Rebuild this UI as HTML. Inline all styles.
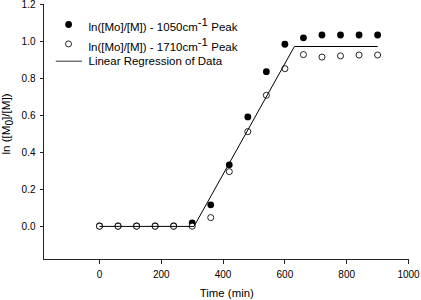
<!DOCTYPE html>
<html><head><meta charset="utf-8"><style>
html,body{margin:0;padding:0;background:#fff;}
body{width:421px;height:300px;overflow:hidden;}
svg{display:block;}
text{font-family:"Liberation Sans",sans-serif;fill:#000;}
</style></head><body>
<svg width="421" height="300" viewBox="0 0 421 300">
<rect width="421" height="300" fill="#fff"/>
<g stroke="#222" stroke-width="1" fill="none" shape-rendering="crispEdges">
<polyline points="43.5,4.5 43.5,259.5 409,259.5"/>
<line x1="40" y1="4.5" x2="43.5" y2="4.5"/><line x1="40" y1="41.5" x2="43.5" y2="41.5"/><line x1="40" y1="78.5" x2="43.5" y2="78.5"/><line x1="40" y1="115.5" x2="43.5" y2="115.5"/><line x1="40" y1="152.5" x2="43.5" y2="152.5"/><line x1="40" y1="189.5" x2="43.5" y2="189.5"/><line x1="40" y1="226.5" x2="43.5" y2="226.5"/>
<line x1="99.5" y1="259.5" x2="99.5" y2="263.5"/><line x1="161.5" y1="259.5" x2="161.5" y2="263.5"/><line x1="223.5" y1="259.5" x2="223.5" y2="263.5"/><line x1="284.5" y1="259.5" x2="284.5" y2="263.5"/><line x1="346.5" y1="259.5" x2="346.5" y2="263.5"/><line x1="408.5" y1="259.5" x2="408.5" y2="263.5"/>
</g>
<g font-size="10">
<text x="35.5" y="8.2" text-anchor="end">1.2</text><text x="35.5" y="45.2" text-anchor="end">1.0</text><text x="35.5" y="82.2" text-anchor="end">0.8</text><text x="35.5" y="119.2" text-anchor="end">0.6</text><text x="35.5" y="156.2" text-anchor="end">0.4</text><text x="35.5" y="193.2" text-anchor="end">0.2</text><text x="35.5" y="230.2" text-anchor="end">0.0</text>
<text x="99.50" y="277.6" text-anchor="middle">0</text><text x="161.30" y="277.6" text-anchor="middle">200</text><text x="223.10" y="277.6" text-anchor="middle">400</text><text x="284.90" y="277.6" text-anchor="middle">600</text><text x="346.70" y="277.6" text-anchor="middle">800</text><text x="408.50" y="277.6" text-anchor="middle">1000</text>
</g>
<text x="226.8" y="296.8" font-size="11.4" text-anchor="middle">Time (min)</text>
<text transform="translate(10.3,124) rotate(-90)" font-size="11.6" text-anchor="middle">ln ([M<tspan font-size="10.2" dy="2.6">0</tspan><tspan dy="-2.6">]/[M])</tspan></text>
<circle cx="99.50" cy="226" r="3.4" fill="#000"/>
<circle cx="118.04" cy="226" r="3.4" fill="#000"/>
<circle cx="136.58" cy="226" r="3.4" fill="#000"/>
<circle cx="155.12" cy="226" r="3.4" fill="#000"/>
<circle cx="173.66" cy="226" r="3.4" fill="#000"/>
<circle cx="192.20" cy="223" r="3.4" fill="#000"/>
<circle cx="210.74" cy="204.8" r="3.4" fill="#000"/>
<circle cx="229.28" cy="164.8" r="3.4" fill="#000"/>
<circle cx="247.82" cy="116.9" r="3.4" fill="#000"/>
<circle cx="266.36" cy="71.7" r="3.4" fill="#000"/>
<circle cx="284.90" cy="44.25" r="3.4" fill="#000"/>
<circle cx="303.44" cy="37.85" r="3.4" fill="#000"/>
<circle cx="321.98" cy="35" r="3.4" fill="#000"/>
<circle cx="340.52" cy="35" r="3.4" fill="#000"/>
<circle cx="359.06" cy="35" r="3.4" fill="#000"/>
<circle cx="377.60" cy="35" r="3.4" fill="#000"/>
<circle cx="99.50" cy="226.2" r="3.05" fill="#fff" stroke="#000" stroke-width="0.85"/>
<circle cx="118.04" cy="226.2" r="3.05" fill="#fff" stroke="#000" stroke-width="0.85"/>
<circle cx="136.58" cy="226.2" r="3.05" fill="#fff" stroke="#000" stroke-width="0.85"/>
<circle cx="155.12" cy="226.2" r="3.05" fill="#fff" stroke="#000" stroke-width="0.85"/>
<circle cx="173.66" cy="226.2" r="3.05" fill="#fff" stroke="#000" stroke-width="0.85"/>
<circle cx="192.20" cy="226.2" r="3.05" fill="#fff" stroke="#000" stroke-width="0.85"/>
<circle cx="210.74" cy="217.6" r="3.05" fill="#fff" stroke="#000" stroke-width="0.85"/>
<circle cx="229.28" cy="171.6" r="3.05" fill="#fff" stroke="#000" stroke-width="0.85"/>
<circle cx="247.82" cy="131.6" r="3.05" fill="#fff" stroke="#000" stroke-width="0.85"/>
<circle cx="266.36" cy="95.3" r="3.05" fill="#fff" stroke="#000" stroke-width="0.85"/>
<circle cx="284.90" cy="68.7" r="3.05" fill="#fff" stroke="#000" stroke-width="0.85"/>
<circle cx="303.44" cy="54.6" r="3.05" fill="#fff" stroke="#000" stroke-width="0.85"/>
<circle cx="321.98" cy="57.1" r="3.05" fill="#fff" stroke="#000" stroke-width="0.85"/>
<circle cx="340.52" cy="55.9" r="3.05" fill="#fff" stroke="#000" stroke-width="0.85"/>
<circle cx="359.06" cy="55" r="3.05" fill="#fff" stroke="#000" stroke-width="0.85"/>
<circle cx="377.60" cy="55" r="3.05" fill="#fff" stroke="#000" stroke-width="0.85"/>
<polyline points="99.5,226.4 194,226.4 294.4,46.5 377.7,46.5" fill="none" stroke="#000" stroke-width="1"/>
<circle cx="68.6" cy="24.5" r="3.4" fill="#000"/>
<circle cx="68.5" cy="43.9" r="3.0" fill="#fff" stroke="#000" stroke-width="0.85"/>
<line x1="55.8" y1="61.2" x2="82" y2="61.2" stroke="#333" stroke-width="1"/>
<g font-size="11.5">
<text x="88.5" y="31">ln([Mo]/[M]) - 1050cm<tspan dy="-4.6">-1</tspan><tspan dy="4.6"> Peak</tspan></text>
<text x="88.5" y="50.5">ln([Mo]/[M]) - 1710cm<tspan dy="-4.6">-1</tspan><tspan dy="4.6"> Peak</tspan></text>
<text x="88.5" y="64.5">Linear Regression of Data</text>
</g>
</svg>
</body></html>
